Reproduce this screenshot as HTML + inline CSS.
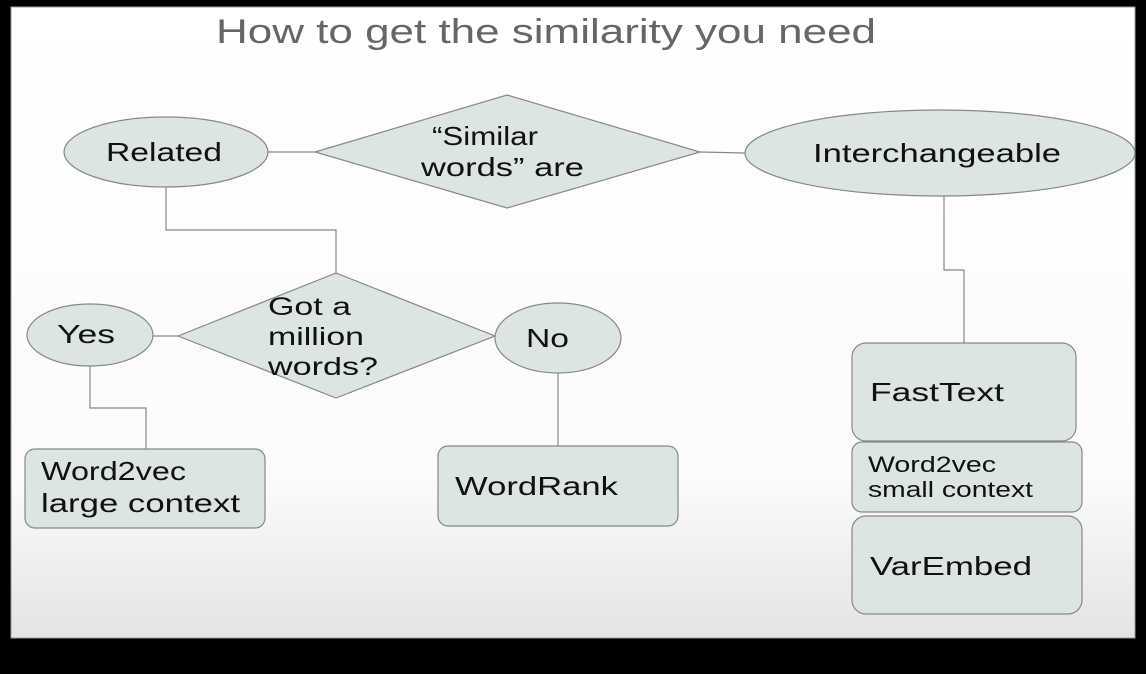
<!DOCTYPE html>
<html><head><meta charset="utf-8"><style>
html,body{margin:0;padding:0;background:#000;}
svg{display:block;}
text{font-family:"Liberation Sans",sans-serif;fill:#111;}
</style></head><body>
<svg width="1146" height="674" viewBox="0 0 1146 674">
<defs><linearGradient id="g" x1="0" y1="0" x2="0" y2="1">
<stop offset="0" stop-color="#ffffff"/><stop offset="0.75" stop-color="#fbfbfb"/><stop offset="1" stop-color="#e4e4e4"/></linearGradient></defs>
<rect x="0" y="0" width="1146" height="674" fill="#000"/>
<rect x="11" y="7" width="1124" height="631" fill="url(#g)" stroke="#999" stroke-width="1"/>
<text x="216" y="43" font-size="34" textLength="660" lengthAdjust="spacingAndGlyphs" style="fill:#666">How to get the similarity you need</text>
<g stroke="#888" stroke-width="1.2" fill="none">
<polyline points="268,152 315,152"/>
<polyline points="700,152 745,153"/>
<polyline points="166,187 166,230 336,230 336,273"/>
<polyline points="153,336 178,336"/>
<polyline points="90,366 90,408 146,408 146,449"/>
<polyline points="558,373 558,446"/>
<polyline points="944,196 944,270 964,270 964,343"/>
</g>
<g fill="#dce4e4" stroke="#888" stroke-width="1.2">
<ellipse cx="166" cy="152" rx="102" ry="35"/>
<polygon points="315,152 507,95 700,152 507,208"/>
<ellipse cx="940" cy="153" rx="195" ry="43"/>
<polygon points="178,336 336,273 495,336 336,398"/>
<ellipse cx="90" cy="335" rx="63" ry="31"/>
<ellipse cx="558" cy="338" rx="63" ry="35"/>
<rect x="25" y="449" width="240" height="79" rx="10"/>
<rect x="438" y="446" width="240" height="80" rx="10"/>
<rect x="852" y="343" width="224" height="98" rx="14"/>
<rect x="852" y="442" width="230" height="70" rx="10"/>
<rect x="852" y="516" width="230" height="98" rx="14"/>
</g>
<g font-size="26" lengthAdjust="spacingAndGlyphs">
<text x="106" y="161" textLength="116" lengthAdjust="spacingAndGlyphs">Related</text>
<text x="432" y="145" textLength="106" lengthAdjust="spacingAndGlyphs">“Similar</text>
<text x="421" y="176" textLength="163" lengthAdjust="spacingAndGlyphs">words” are</text>
<text x="813" y="162" textLength="248" lengthAdjust="spacingAndGlyphs">Interchangeable</text>
<text x="268" y="315" font-size="25" textLength="83" lengthAdjust="spacingAndGlyphs">Got a</text>
<text x="268" y="345" font-size="25" textLength="96" lengthAdjust="spacingAndGlyphs">million</text>
<text x="268" y="375" font-size="25" textLength="110" lengthAdjust="spacingAndGlyphs">words?</text>
<text x="57" y="343" textLength="58" lengthAdjust="spacingAndGlyphs">Yes</text>
<text x="526" y="347" textLength="43" lengthAdjust="spacingAndGlyphs">No</text>
<text x="41" y="480" textLength="145" lengthAdjust="spacingAndGlyphs">Word2vec</text>
<text x="41" y="512" textLength="199" lengthAdjust="spacingAndGlyphs">large context</text>
<text x="455" y="495" textLength="163" lengthAdjust="spacingAndGlyphs">WordRank</text>
<text x="870" y="401" textLength="134" lengthAdjust="spacingAndGlyphs">FastText</text>
<text x="868" y="472" font-size="22" textLength="128" lengthAdjust="spacingAndGlyphs">Word2vec</text>
<text x="868" y="497" font-size="22" textLength="165" lengthAdjust="spacingAndGlyphs">small context</text>
<text x="870" y="575" textLength="162" lengthAdjust="spacingAndGlyphs">VarEmbed</text>
</g>
</svg>
</body></html>
